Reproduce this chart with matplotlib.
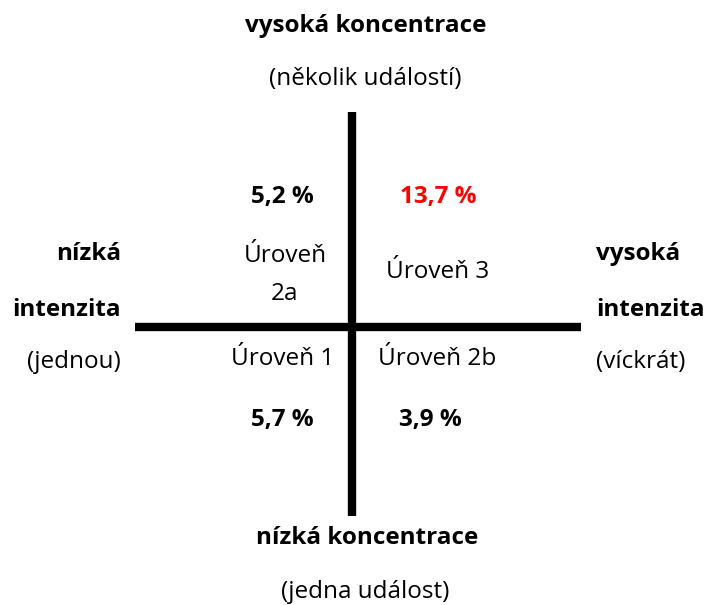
import matplotlib.pyplot as plt

plt.rcParams['font.family'] = ['Open Sans', 'DejaVu Sans']

# quadrant values (share in %)
levels = ['Úroveň\n2a', 'Úroveň 3', 'Úroveň 1', 'Úroveň 2b']
values = ['5,2 %', '13,7 %', '5,7 %', '3,9 %']
value_colors = ['black', 'red', 'black', 'black']

top_label = ['vysoká koncentrace', '(několik událostí)']
bottom_label = ['nízká koncentrace', '(jedna událost)']
left_label = ['nízká', 'intenzita', '(jednou)']
right_label = ['vysoká', 'intenzita', '(víckrát)']

fig = plt.figure(figsize=(7.07, 6.05), dpi=100)
ax = fig.add_axes([0, 0, 1, 1])
ax.set_xlim(0, 707)
ax.set_ylim(605, 0)
ax.axis('off')

fs = 17.5
dy = 2  # small vertical nudge for text baseline

# axes cross
ax.plot([352, 352], [112, 516], color='black', lw=6, solid_capstyle='butt')
ax.plot([135, 581], [327, 327], color='black', lw=6, solid_capstyle='butt')

# top / bottom
ax.text(366, 24 + dy, top_label[0], ha='center', va='center', fontsize=fs, fontweight='bold')
ax.text(365, 77 + dy, top_label[1], ha='center', va='center', fontsize=fs)
ax.text(367, 536 + dy, bottom_label[0], ha='center', va='center', fontsize=fs, fontweight='bold')
ax.text(365, 590 + dy, bottom_label[1], ha='center', va='center', fontsize=fs)

# left / right
for txt, y, w in zip(left_label, [252, 308, 360], ['bold', 'bold', 'normal']):
    ax.text(121, y + dy, txt, ha='right', va='center', fontsize=fs, fontweight=w)
for txt, y, w in zip(right_label, [252, 308, 360], ['bold', 'bold', 'normal']):
    ax.text(596, y + dy, txt, ha='left', va='center', fontsize=fs, fontweight=w)

# quadrant labels
level_pos = [(285, 273), (438, 270), (283, 357), (437, 357)]
for txt, (x, y) in zip(levels, level_pos):
    ax.text(x, y + dy, txt, ha='center', va='center', fontsize=fs, linespacing=1.75)

value_pos = [(282, 195), (438, 195), (282, 418), (430, 418)]
for txt, (x, y), c in zip(values, value_pos, value_colors):
    ax.text(x, y + dy, txt, ha='center', va='center', fontsize=fs, fontweight='bold', color=c)

fig.savefig('out.png', dpi=100)
